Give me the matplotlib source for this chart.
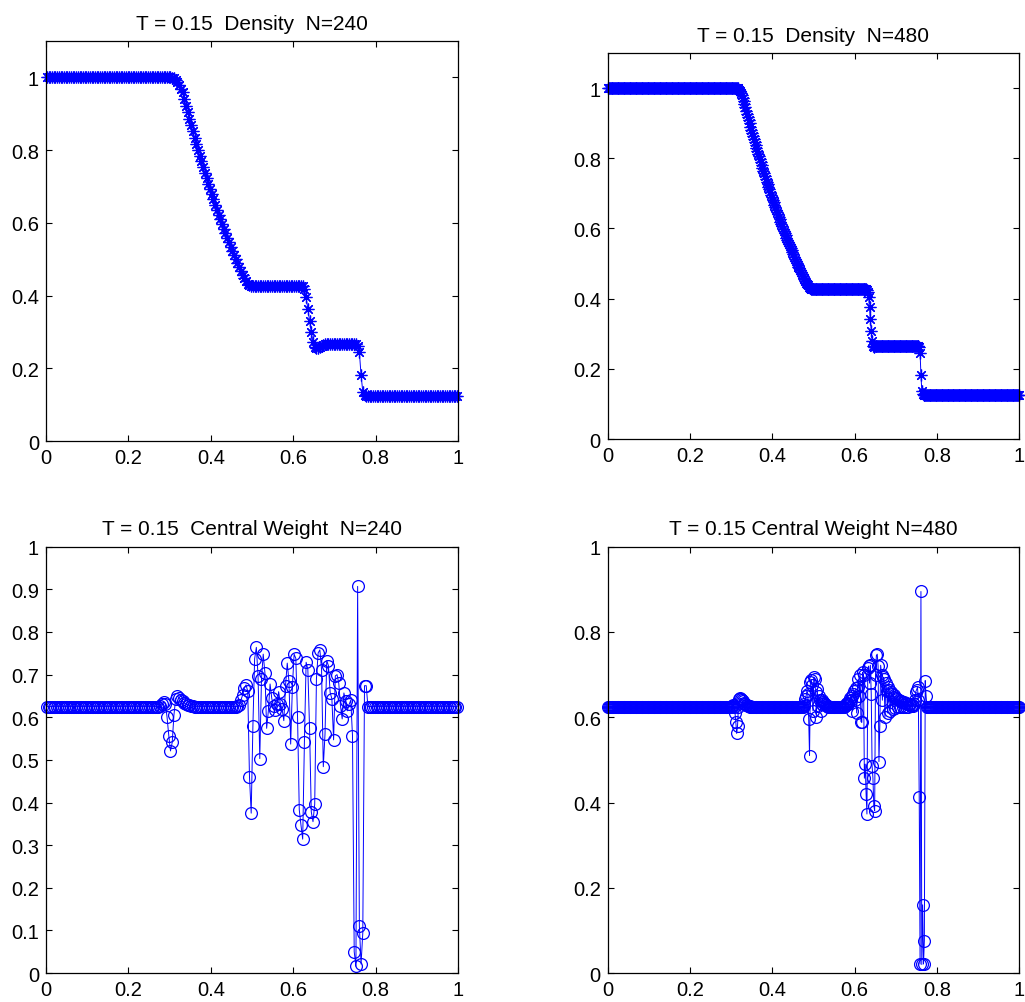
import numpy as np
import matplotlib.pyplot as plt
from matplotlib.ticker import FuncFormatter

plt.rcParams['font.family'] = ['Liberation Sans', 'DejaVu Sans']

N_COARSE, N_FINE = 240, 480

# density plateaus
rho_left, rho_mid, rho_star, rho_right = 1.0, 0.4265, 0.266, 0.125

# density N=240: rarefaction cells 72..119, contact cells 149..164, shock cells 181..185
rho240_fan = [1.0, 0.9995, 0.998, 0.994, 0.988, 0.978, 0.968, 0.9592, 0.9408, 0.9222,
              0.9040, 0.8861, 0.8685, 0.8513, 0.8343, 0.8176, 0.8011, 0.7849, 0.7688, 0.7531,
              0.7377, 0.7225, 0.7075, 0.6928, 0.6785, 0.6643, 0.6503, 0.6365, 0.6228, 0.6097,
              0.5967, 0.5839, 0.5712, 0.5587, 0.5466, 0.5348, 0.5230, 0.5113, 0.4999, 0.4889,
              0.4779, 0.4675, 0.4576, 0.4483, 0.4399, 0.4331, 0.4290, 0.4272]
rho240_contact = [0.425, 0.418, 0.395, 0.363, 0.331, 0.299, 0.272, 0.259, 0.255, 0.256,
                  0.259, 0.262, 0.265, 0.267, 0.268, 0.268]
rho240_shock = [0.262, 0.245, 0.181, 0.136, 0.127]

# density N=480: rarefaction cells 150..239, contact cells 302..311, shock cells 363..367
rho480_fan = [0.9998, 0.9993, 0.998, 0.9957, 0.992, 0.9868, 0.980, 0.9722, 0.9636, 0.9547,
              0.9455, 0.9361, 0.9268, 0.9176, 0.9085, 0.8995, 0.8905, 0.8816, 0.8728, 0.8641,
              0.8556, 0.8470, 0.8385, 0.8301, 0.8217, 0.8134, 0.8052, 0.7970, 0.7889, 0.7808,
              0.7727, 0.7648, 0.7570, 0.7492, 0.7415, 0.7338, 0.7262, 0.7187, 0.7112, 0.7038,
              0.6964, 0.6892, 0.6820, 0.6749, 0.6678, 0.6608, 0.6538, 0.6468, 0.6399, 0.6330,
              0.6261, 0.6195, 0.6129, 0.6064, 0.5999, 0.5935, 0.5871, 0.5807, 0.5743, 0.5680,
              0.5617, 0.5556, 0.5496, 0.5436, 0.5377, 0.5318, 0.5259, 0.5200, 0.5142, 0.5084,
              0.5027, 0.4971, 0.4916, 0.4861, 0.4806, 0.4752, 0.4700, 0.4650, 0.4600, 0.4552,
              0.4505, 0.4460, 0.4418, 0.4380, 0.4346, 0.4318, 0.4296, 0.4281, 0.4271, 0.4266]
rho480_contact = [0.425, 0.420, 0.405, 0.375, 0.342, 0.309, 0.280, 0.266, 0.2635, 0.264]
rho480_shock = [0.262, 0.246, 0.182, 0.138, 0.127]

# central weight, linear value 5/8 away from discontinuities
w_base = 0.625
w240_head_start, w240_mid_start = 66, 110
w240_head = [0.626, 0.630, 0.635, 0.632, 0.600, 0.557, 0.521, 0.541, 0.605, 0.643,
             0.650, 0.646, 0.641, 0.637, 0.634, 0.631, 0.629, 0.628, 0.627, 0.626]
w240_mid = [0.625, 0.626, 0.628, 0.640, 0.652, 0.668, 0.676, 0.661, 0.461, 0.375,
            0.580, 0.737, 0.764, 0.697, 0.503, 0.690, 0.748, 0.704, 0.574, 0.615,
            0.678, 0.644, 0.627, 0.618, 0.631, 0.660, 0.631, 0.620, 0.592, 0.674,
            0.727, 0.684, 0.537, 0.672, 0.748, 0.738, 0.600, 0.383, 0.347, 0.314,
            0.543, 0.729, 0.712, 0.574, 0.378, 0.355, 0.396, 0.690, 0.751, 0.758,
            0.711, 0.484, 0.561, 0.733, 0.721, 0.658, 0.643, 0.547, 0.697, 0.700,
            0.680, 0.627, 0.596, 0.657, 0.639, 0.615, 0.630, 0.640, 0.557, 0.050,
            0.016, 0.907, 0.111, 0.021, 0.094, 0.674, 0.674, 0.625]

w480_head_start, w480_tail_start, w480_mid_start = 145, 228, 276
w480_head = [0.626, 0.628, 0.625, 0.611, 0.588, 0.562, 0.580, 0.625, 0.642, 0.645,
             0.643, 0.640, 0.637, 0.634, 0.632, 0.630, 0.629, 0.628, 0.627, 0.626, 0.626]
w480_tail = [0.626, 0.630, 0.643, 0.650, 0.662, 0.655, 0.596, 0.510, 0.682, 0.688,
             0.676, 0.615, 0.694, 0.690, 0.660, 0.600, 0.666, 0.627, 0.650, 0.640,
             0.615, 0.632, 0.640, 0.636, 0.633, 0.630, 0.628, 0.627, 0.626]
w480_mid = [0.626, 0.628, 0.631, 0.634, 0.630, 0.637, 0.645, 0.640, 0.650, 0.615,
            0.655, 0.662, 0.640, 0.668, 0.610, 0.672, 0.690, 0.650, 0.700, 0.590,
            0.588, 0.705, 0.700, 0.457, 0.490, 0.420, 0.373, 0.715, 0.720, 0.680,
            0.722, 0.655, 0.486, 0.457, 0.392, 0.381, 0.700, 0.745, 0.748, 0.720,
            0.496, 0.580, 0.722, 0.700, 0.640, 0.694, 0.690, 0.600, 0.680, 0.662,
            0.610, 0.670, 0.665, 0.615, 0.660, 0.655, 0.620, 0.652, 0.648, 0.622,
            0.646, 0.643, 0.623, 0.641, 0.639, 0.624, 0.637, 0.636, 0.624, 0.635,
            0.634, 0.625, 0.633, 0.632, 0.625, 0.631, 0.630, 0.627, 0.629, 0.628,
            0.627, 0.630, 0.640, 0.660, 0.665, 0.670, 0.640, 0.412, 0.021, 0.895,
            0.020, 0.160, 0.021, 0.076, 0.686, 0.650, 0.625]


def assemble(n, pieces):
    out = np.concatenate([np.asarray(p, dtype=float) for p in pieces])
    assert len(out) == n, len(out)
    return out


rho240 = assemble(N_COARSE, [[rho_left] * 72, rho240_fan, [rho_mid] * 29, rho240_contact,
                             [rho_star] * 16, rho240_shock, [rho_right] * 54])
rho480 = assemble(N_FINE, [[rho_left] * 150, rho480_fan, [rho_mid] * 62, rho480_contact,
                           [rho_star] * 51, rho480_shock, [rho_right] * 112])

w240 = np.full(N_COARSE, w_base)
w240[w240_head_start:w240_head_start + len(w240_head)] = w240_head
w240[w240_mid_start:w240_mid_start + len(w240_mid)] = w240_mid

w480 = np.full(N_FINE, w_base)
w480[w480_head_start:w480_head_start + len(w480_head)] = w480_head
w480[w480_tail_start:w480_tail_start + len(w480_tail)] = w480_tail
w480[w480_mid_start:w480_mid_start + len(w480_mid)] = w480_mid

x240 = (np.arange(N_COARSE) + 0.5) / N_COARSE
x480 = (np.arange(N_FINE) + 0.5) / N_FINE

fig = plt.figure(figsize=(10.25, 10.03), dpi=100)
ax1 = fig.add_axes([0.0449, 0.5593, 0.4020, 0.3988])
ax2 = fig.add_axes([0.5929, 0.5613, 0.4013, 0.3848])
ax3 = fig.add_axes([0.0449, 0.0289, 0.4020, 0.4250])
ax4 = fig.add_axes([0.5929, 0.0289, 0.4013, 0.4250])

blue = (0, 0, 1)
star = (8, 2, 0)  # asterisk: plus and cross
fmt = FuncFormatter(lambda v, p: '%g' % round(v, 3))

ax1.plot(x240, rho240, color=blue, lw=0.7, marker=star, ms=8.5, mew=0.9, clip_on=False)
ax2.plot(x480, rho480, color=blue, lw=0.7, marker=star, ms=8.5, mew=0.9, clip_on=False)
ax3.plot(x240, w240, color=blue, lw=0.7, marker='o', ms=8.5, mfc='none', mew=0.9, clip_on=False)
ax4.plot(x480, w480, color=blue, lw=0.7, marker='o', ms=8.5, mfc='none', mew=0.9, clip_on=False)

ax1.set_title('T = 0.15  Density  N=240', fontsize=15, pad=9)
ax2.set_title('T = 0.15  Density  N=480', fontsize=15, pad=9)
ax3.set_title('T = 0.15  Central Weight  N=240', fontsize=15, pad=9)
ax4.set_title('T = 0.15 Central Weight N=480', fontsize=15, pad=9)

for ax in (ax1, ax2):
    ax.set_ylim(0, 1.1)
    ax.set_yticks(np.arange(0, 1.01, 0.2))
ax3.set_ylim(0, 1)
ax3.set_yticks(np.arange(0, 1.01, 0.1))
ax4.set_ylim(0, 1)
ax4.set_yticks(np.arange(0, 1.01, 0.2))

for ax in (ax1, ax2, ax3, ax4):
    ax.set_xlim(0, 1)
    ax.set_xticks(np.arange(0, 1.01, 0.2))
    ax.xaxis.set_major_formatter(fmt)
    ax.yaxis.set_major_formatter(fmt)
    ax.tick_params(direction='in', length=4, width=0.8, top=True, right=True,
                   labelsize=14.5, pad=5)
    for s in ax.spines.values():
        s.set_linewidth(0.9)

fig.savefig('out.png', dpi=100)
